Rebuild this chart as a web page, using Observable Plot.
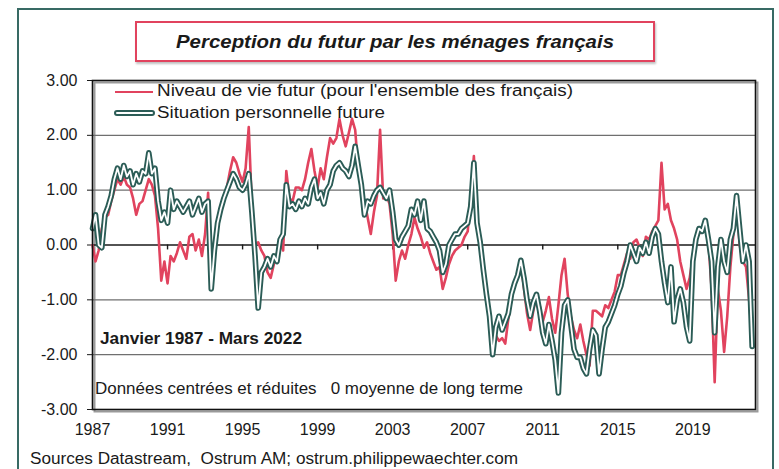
<!DOCTYPE html>
<html><head><meta charset="utf-8">
<script src="https://cdn.jsdelivr.net/npm/d3@7"></script>
<script src="https://cdn.jsdelivr.net/npm/@observablehq/plot@0.6"></script>
<style>
html,body{margin:0;padding:0;background:#fff;}
#wrap{position:relative;width:779px;height:469px;overflow:hidden;font-family:"Liberation Sans",Arial,sans-serif;color:#1a1a1a;}
#wrap svg{position:absolute;left:0;top:0;}
.t{position:absolute;white-space:pre;line-height:1;transform-origin:0 0;}
.border{position:absolute;left:17px;top:8px;width:753px;height:520px;border:2px solid #386a64;box-sizing:content-box;}
.titlebox{position:absolute;left:135px;top:21px;width:516px;height:37px;border:2px solid #e1435e;box-shadow:1px 2px 2px rgba(0,0,0,0.25);background:#fff;}
.leg{position:absolute;}
</style></head>
<body><div id="wrap"><div class="border"></div><div class="titlebox"></div></div>
<script>
// ---- data ----
const title = "Perception du futur par les ménages français";
const seriesNames = ["Niveau de vie futur (pour l'ensemble des français)", "Situation personnelle future"];
const periodNote = "Janvier 1987 - Mars 2022";
const methodNote = "Données centrées et réduites   0 moyenne de long terme";
const sourceNote = "Sources Datastream,  Ostrum AM; ostrum.philippewaechter.com";
const tickYears = [1987, 1991, 1995, 1999, 2003, 2007, 2011, 2015, 2019];
const yTicks = [3, 2, 1, 0, -1, -2, -3];
const gridValues = [2, 1, -1, -2];
// bimonthly observations (Jan, Mar, May, Jul, Sep, Nov), Jan 1987 - Mar 2022
const niveau = [
  0.0, -0.3, -0.1, 0.3, 0.5, 0.55,        // 1987
  0.8, 1.0, 1.2, 1.1, 1.25, 1.1,          // 1988
  1.05, 0.85, 0.55, 0.75, 0.8, 1.0,       // 1989
  1.2, 1.1, 0.9, 0.3, -0.65, -0.3,        // 1990
  -0.7, -0.2, -0.3, -0.15, 0.05, -0.1,    // 1991
  -0.25, 0.15, 0.2, -0.1, 0.1, -0.2,      // 1992
  0.2, 0.95, -0.55, -0.2, 0.35, 0.7,      // 1993
  0.9, 1.05, 1.35, 1.6, 1.5, 1.3,         // 1994
  1.15, 1.4, 2.15, 0.7, 0.0, 0.05,        // 1995
  -0.1, -0.2, -0.5, -0.6, -0.35, -0.15,   // 1996
  0.05, -0.1, 1.35, 0.85, 0.8, 1.05,      // 1997
  1.05, 1.0, 1.2, 1.5, 1.75, 1.35,        // 1998
  1.05, 1.4, 1.2, 1.6, 1.95, 1.85,        // 1999
  1.95, 2.3, 2.0, 1.8, 2.05, 2.3,         // 2000
  2.1, 1.4, 1.05, 0.8, 0.5, 0.2,          // 2001
  0.6, 0.9, 2.1, 0.85, 0.9, 0.75,         // 2002
  0.2, -0.65, -0.3, -0.1, -0.25, 0.0,     // 2003
  0.2, 0.5, 0.3, 0.15, -0.05, 0.05,       // 2004
  -0.15, -0.3, -0.45, -0.4, -0.8, -0.6,   // 2005
  -0.35, -0.2, -0.1, -0.05, 0.0, 0.15,    // 2006
  0.25, 0.9, 1.62, 0.5, -0.05, -0.35,     // 2007
  -0.95, -1.3, -1.55, -1.65, -1.75, -1.7, // 2008
  -1.8, -1.35, -1.0, -0.7, -0.5, -0.3,    // 2009
  -0.8, -1.25, -1.55, -1.2, -0.9, -1.1,   // 2010
  -1.4, -1.2, -0.95, -1.35, -1.6, -1.1,   // 2011
  -0.55, -0.25, -0.9, -1.3, -1.55, -1.7,  // 2012
  -1.45, -1.75, -2.0, -2.2, -1.2, -1.2,   // 2013
  -1.25, -1.3, -1.1, -1.15, -1.0, -0.85,  // 2014
  -0.55, -0.55, -0.35, -0.15, -0.25, 0.05,// 2015
  0.1, -0.05, -0.2, 0.15, 0.1, 0.25,      // 2016
  0.35, 0.45, 1.5, 0.65, 0.75, 0.45,      // 2017
  0.3, 0.1, -0.3, -0.55, -0.8, -0.6,      // 2018
  -0.2, 0.1, 0.2, 0.3, 0.35, 0.05,        // 2019
  -0.8, -2.5, -0.8, -1.2, -1.95, -1.3,    // 2020
  -0.4, 0.2, 0.7, 0.0, -0.3, -0.4,        // 2021
  -1.0, -1.75                             // 2022
];
const situation = [
  0.3, 0.55, 0.0, -0.05, 0.55, 0.7,       // 1987
  0.9, 1.2, 1.4, 1.2, 1.45, 1.25,         // 1988
  1.35, 1.1, 1.3, 1.15, 1.35, 1.3,        // 1989
  1.68, 1.3, 1.4, 0.8, 0.45, 0.6,         // 1990
  0.4, 1.0, 0.65, 0.8, 0.7, 0.6,          // 1991
  0.7, 0.8, 0.55, 0.7, 0.85, 0.6,         // 1992
  0.75, 0.8, -0.8, -0.1, 0.4, 0.65,       // 1993
  0.85, 1.0, 1.15, 1.3, 1.2, 1.05,        // 1994
  1.0, 1.1, 1.3, 0.6, -0.2, -1.15,        // 1995
  -0.5, -0.4, -0.25, -0.4, -0.2, -0.3,    // 1996
  0.1, 0.2, 1.1, 0.7, 0.75, 0.65,         // 1997
  0.8, 0.7, 0.85, 0.75, 1.05, 1.2,        // 1998
  0.85, 0.95, 0.75, 1.0, 1.1, 1.35,       // 1999
  1.45, 1.5, 1.4, 1.35, 1.25, 1.45,       // 2000
  1.8, 1.45, 1.1, 0.55, 0.8, 0.75,        // 2001
  0.9, 1.0, 1.05, 0.95, 0.85, 1.0,        // 2002
  0.6, 0.1, 0.0, 0.15, 0.25, 0.35,        // 2003
  0.65, 0.55, 0.8, 0.45, 0.8, 0.3,        // 2004
  0.25, 0.15, 0.05, -0.1, -0.5, -0.35,    // 2005
  0.0, 0.1, 0.2, 0.2, 0.3, 0.35,          // 2006
  0.4, 0.7, 1.5, 0.4, 0.05, -0.45,        // 2007
  -0.9, -1.3, -2.0, -1.5, -1.3, -1.55,    // 2008
  -1.4, -1.25, -0.9, -0.7, -0.55, -0.28,  // 2009
  -0.6, -1.0, -1.3, -1.05, -0.9, -1.2,    // 2010
  -1.6, -1.8, -1.45, -1.75, -2.1, -2.7,   // 2011
  -1.6, -1.1, -1.0, -1.45, -1.9, -2.05,   // 2012
  -2.05, -2.25, -2.35, -1.9, -1.55, -1.65,// 2013
  -2.35, -1.9, -1.5, -1.4, -1.25, -1.1,   // 2014
  -0.9, -0.75, -0.5, -0.3, 0.0, -0.15,    // 2015
  -0.3, -0.05, -0.15, 0.05, -0.15, 0.15,  // 2016
  0.3, 0.2, -0.3, -0.7, -1.05, -0.4,      // 2017
  -1.4, -1.0, -0.8, -1.05, -1.5, -1.75,   // 2018
  -0.3, 0.1, 0.3, 0.25, 0.45, 0.1,        // 2019
  -0.3, -1.6, -0.4, 0.1, -0.3, -0.5,      // 2020
  0.1, 0.3, 0.9, 0.3, -0.3, 0.0,          // 2021
  -0.3, -1.85                             // 2022
];

const RED = "#e1435e", TEAL = "#2b5c56";
const dates = d3.utcMonth.every(2).range(new Date(Date.UTC(1987, 0, 1)), new Date(Date.UTC(2022, 3, 1)));
const rows = dates.map((d, i) => ({date: d, niveau: niveau[i], situation: situation[i]}));
const tickDates = tickYears.map(y => new Date(Date.UTC(y, 0, 1)));

const chart = Plot.plot({
  width: 779, height: 469,
  marginLeft: 92, marginRight: 24, marginTop: 80, marginBottom: 60,
  style: {fontFamily: '"Liberation Sans", Arial, sans-serif', fontSize: "16px", color: "#1a1a1a", background: "transparent", overflow: "visible"},
  x: {type: "utc", domain: [new Date(Date.UTC(1987, 0, 1)), new Date(Date.UTC(2022, 4, 5))],
      ticks: tickDates, tickFormat: d3.utcFormat("%Y"), tickSize: 0, tickPadding: 14, label: null},
  y: {domain: [-3, 3], ticks: yTicks, tickFormat: d => d.toFixed(2), tickSize: 5, tickPadding: 10, label: null},
  marks: [
    Plot.frame({stroke: "#9a9a9a", strokeWidth: 2, dx: 2, dy: 2}),
    Plot.ruleY(gridValues, {stroke: "#6f6f6f", strokeWidth: 1.3}),
    Plot.ruleY([0], {stroke: "#1a1a1a", strokeWidth: 1.6}),
    Plot.ruleX(tickDates.slice(1), {y1: 0, y2: -0.09, stroke: "#1a1a1a", strokeWidth: 1.4}),
    Plot.line(rows, {x: "date", y: "niveau", stroke: RED, strokeWidth: 2.6, strokeLinejoin: "round"}),
    Plot.line(rows, {x: "date", y: "situation", stroke: TEAL, strokeWidth: 5.6, strokeLinejoin: "round", strokeLinecap: "round"}),
    Plot.line(rows, {x: "date", y: "situation", stroke: "#ffffff", strokeWidth: 1.8, strokeLinejoin: "round"}),
    Plot.frame({stroke: "#111", strokeWidth: 1.6})
  ]
});
const wrap = document.getElementById("wrap");
wrap.insertBefore(chart, wrap.querySelector(".titlebox"));

// text helper: place text by baseline, stretch to target width
function addText(str, left, baseline, size, targetWidth, extra = {}, center = false) {
  const s = document.createElement("div");
  s.className = "t";
  s.textContent = str;
  s.style.fontSize = size + "px";
  if (extra.weight) s.style.fontWeight = extra.weight;
  if (extra.italic) s.style.fontStyle = "italic";
  wrap.appendChild(s);
  const w = s.getBoundingClientRect().width;
  const k = targetWidth / w;
  s.style.transform = `scaleX(${k})`;
  s.style.left = (center ? left - targetWidth / 2 : left) + "px";
  s.style.top = (baseline - 0.8465 * size) + "px";
  return s;
}
addText(title, 395, 48, 19, 438, {weight: "bold", italic: true}, true);

// legend
function legLine(y, kind) {
  const d = document.createElement("div");
  d.className = "leg";
  if (kind === "red") {
    Object.assign(d.style, {left: "115px", top: (y - 1.3) + "px", width: "38px", height: "2.6px", background: RED});
  } else {
    Object.assign(d.style, {left: "114px", top: (y - 2.9) + "px", width: "37px", height: "1.8px", border: "2px solid " + TEAL, borderRadius: "3px", background: "#fff"});
  }
  wrap.appendChild(d);
}
legLine(92, "red");
legLine(113, "teal");
addText(seriesNames[0], 157, 97, 16, 416);
addText(seriesNames[1], 157, 118.5, 16, 228);
addText(periodNote, 100, 345, 16, 202, {weight: "bold"});
addText(methodNote, 95, 395, 16, 428);
addText(sourceNote, 30, 465, 16, 488);
</script>
</body></html>
